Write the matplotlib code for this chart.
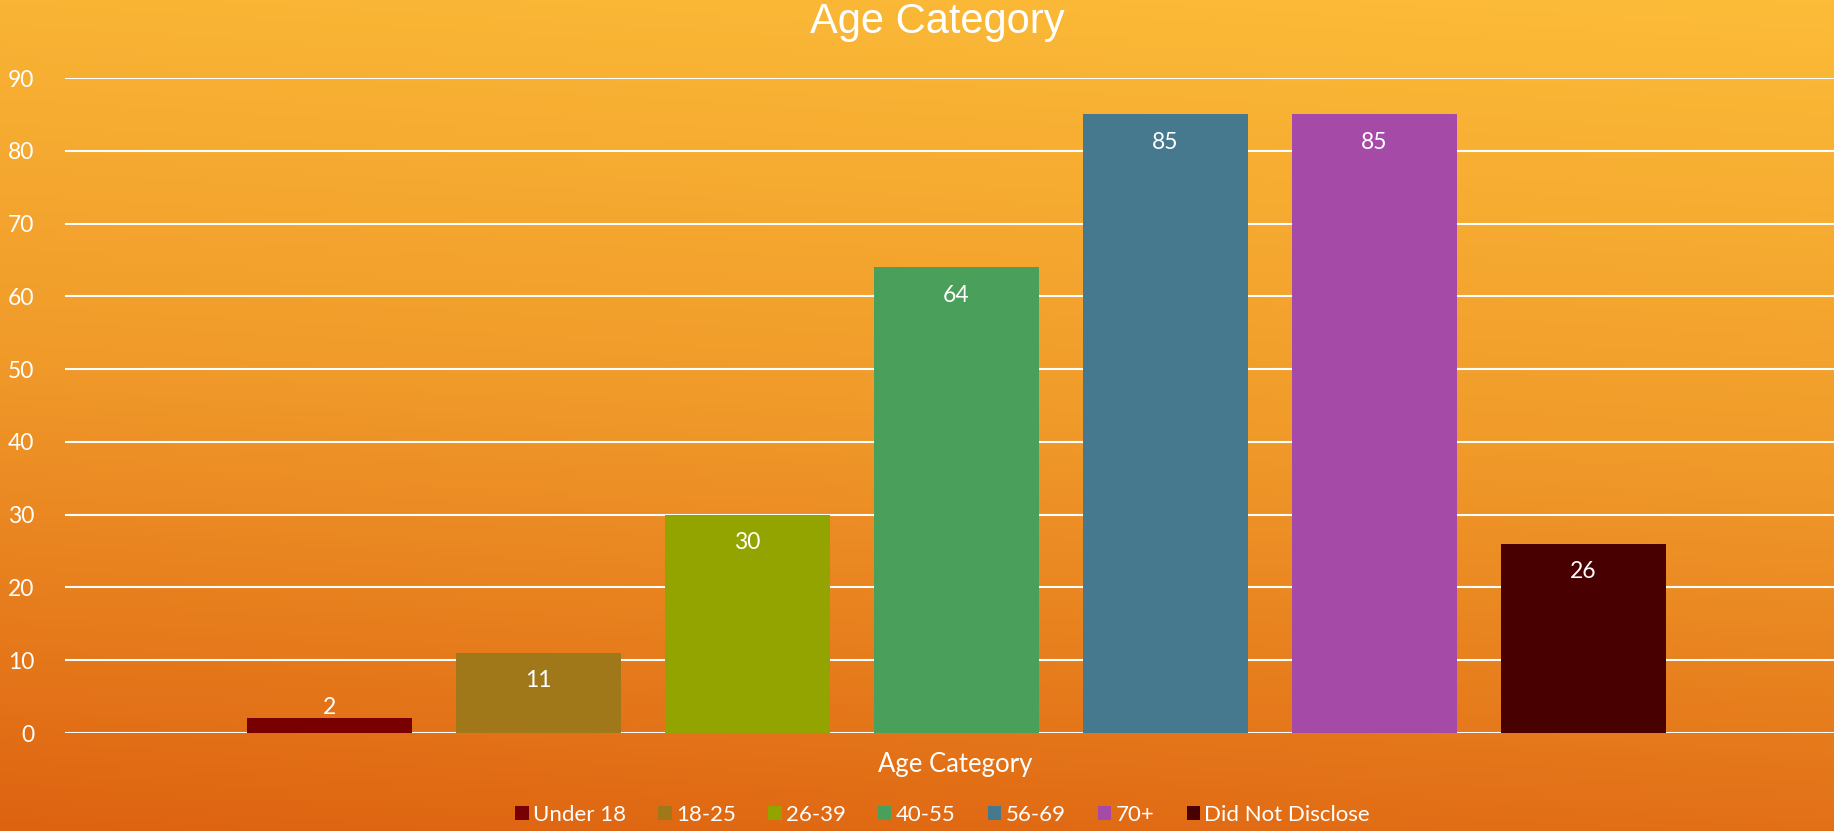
import numpy as np
import matplotlib.pyplot as plt
from matplotlib.colors import LinearSegmentedColormap

# data
categories = ["Under 18", "18-25", "26-39", "40-55", "56-69", "70+", "Did Not Disclose"]
counts = [2, 11, 30, 64, 85, 85, 26]
colors = ["#780000", "#A0781A", "#93A300", "#4AA05A", "#46788E", "#A64AA8", "#480000"]
y_ticks = [0, 10, 20, 30, 40, 50, 60, 70, 80, 90]

plt.rcParams['font.family'] = ['Lato', 'DejaVu Sans']

fig = plt.figure(figsize=(18.34, 8.31), dpi=100)

# gradient background (light yellow-orange top right -> deep orange bottom left)
bg = fig.add_axes([0, 0, 1, 1], zorder=-10)
yy, xx = np.mgrid[0:1:200j, 0:1:400j]
t = 0.88 * yy + 0.12 * (1 - xx)
cmap = LinearSegmentedColormap.from_list("bg", ["#FCBC38", "#F09A2A", "#DE6311"])
bg.imshow(t, cmap=cmap, aspect="auto", extent=[0, 1, 0, 1], origin="upper", vmin=0, vmax=1)
bg.axis("off")

ax = fig.add_axes([0.0354, 0.1179, 0.9646, 0.7882])
ax.set_facecolor("none")

x = np.arange(len(categories))
bars = []
for i in range(len(categories)):
    b = ax.bar(x[i], counts[i], width=0.79, color=colors[i], label=categories[i], zorder=3)
    bars.append(b)

# data labels: inside end, or above when the bar is too short
for i in range(len(categories)):
    v = counts[i]
    if v < 6:
        ax.annotate(str(v), (x[i], v), xytext=(0, 8), textcoords="offset points",
                    ha="center", va="center", color="white", fontsize=16.5, zorder=4)
    else:
        ax.annotate(str(v), (x[i], v), xytext=(0, -20), textcoords="offset points",
                    ha="center", va="center", color="white", fontsize=16.5, zorder=4)

ax.set_xlim(-1.266, 7.199)
ax.set_ylim(0, 90)
ax.set_yticks(y_ticks)
ax.set_xticks([])
ax.yaxis.grid(True, color="white", linewidth=1.5, zorder=0)
ax.set_axisbelow(True)
for s in ax.spines.values():
    s.set_visible(False)
ax.tick_params(axis="y", length=0, pad=22, labelsize=16.5, labelcolor="white")
for lbl in ax.get_yticklabels():
    lbl.set_horizontalalignment("right")

fig.text(0.511, 0.973, "Age Category", ha="center", va="center", color="white",
         fontsize=30, family=["Liberation Sans", "DejaVu Sans"])
fig.text(0.521, 0.0806, "Age Category", ha="center", va="center", color="white", fontsize=18.5)

leg = fig.legend(handles=[b[0] for b in bars], labels=categories, loc="center",
                 bbox_to_anchor=(0.514, 0.019), ncol=7, frameon=False,
                 handlelength=0.6, handleheight=0.6, handletextpad=0.2,
                 columnspacing=1.45, fontsize=16)
for txt in leg.get_texts():
    txt.set_color("white")

fig.savefig("out.png", dpi=100)
